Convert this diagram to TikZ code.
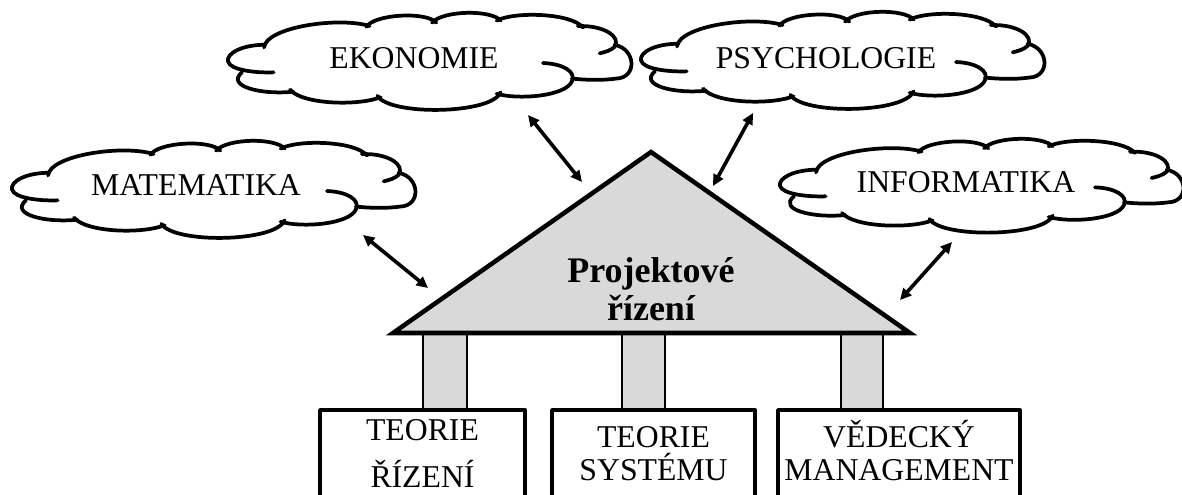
\documentclass[tikz,border=0pt]{standalone}
\usepackage{fontspec}
\setmainfont{Liberation Serif}
\usetikzlibrary{arrows.meta}
\definecolor{roofgray}{HTML}{D9D9D9}
\tikzset{
  cloudline/.style={line width=2.8pt, line cap=round},
  cloudtext/.style={font=\fontsize{23.8}{27}\selectfont, inner sep=0pt},
  boxtext/.style={font=\fontsize{23.8}{27}\selectfont, inner sep=0pt, anchor=base},
  rooftext/.style={font=\bfseries\fontsize{27}{29}\selectfont, inner sep=0pt, anchor=base},
  linkarrow/.style={line width=2.7pt, {Triangle[length=8.5pt,width=8pt]}-{Triangle[length=8.5pt,width=8pt]}},
  roof/.style={fill=roofgray, draw=black, line width=3.4pt},
  pillar/.style={fill=roofgray, draw=black, line width=1.1pt},
  basebox/.style={fill=white, draw=black, line width=2.9pt, line join=round},
  cloudshape/.pic={
    \draw[cloudline] (112,92) .. controls (40,92) and (-5,118) .. (0,140) .. controls (5,165) and (80,174) .. (137,172);
    \draw[cloudline] (108,100) .. controls (115,40) and (335,10) .. (425,38);
    \draw[cloudline] (415,40) .. controls (440,3) and (595,-5) .. (625,28);
    \draw[cloudline] (612,28) .. controls (645,-8) and (790,-10) .. (818,22);
    \draw[cloudline] (806,22) .. controls (860,-5) and (1030,0) .. (1065,42);
    \draw[cloudline] (1050,38) .. controls (1130,35) and (1180,70) .. (1160,98) .. controls (1150,108) and (1132,113) .. (1115,117);
    \draw[cloudline] (1160,92) .. controls (1225,105) and (1228,188) .. (1165,190) .. controls (1120,196) and (1070,194) .. (1032,190);
    \draw[cloudline] (945,145) .. controls (1005,147) and (1045,170) .. (1032,198) .. controls (1012,242) and (870,252) .. (806,234);
    \draw[cloudline] (818,230) .. controls (790,294) and (485,298) .. (448,240);
    \draw[cloudline] (458,244) .. controls (390,270) and (222,265) .. (186,222);
    \draw[cloudline] (196,228) .. controls (100,238) and (-8,212) .. (42,172);
  }
}
\begin{document}
\begin{tikzpicture}[x=0.75pt,y=-0.75pt]
\useasboundingbox (0,0) rectangle (1182,494);
\clip (0,0) rectangle (1182,494);

% clouds
\pic[shift={(228,13)},xscale=0.3333,yscale=0.345] {cloudshape};
\pic[shift={(641,12)},xscale=0.3333,yscale=0.345] {cloudshape};
\pic[shift={(12,141)},xscale=0.3333,yscale=0.345] {cloudshape};
\pic[shift={(780,139)},xscale=0.3333,yscale=0.3333] {cloudshape};
\node[cloudtext] (eko) at (414,58) {EKONOMIE};
\node[cloudtext] (psy) at (826,58) {PSYCHOLOGIE};
\node[cloudtext] (mat) at (196,185) {MATEMATIKA};
\node[cloudtext] (inf) at (966,182) {INFORMATIKA};

% pillars
\draw[pillar] (423,333) rectangle (467,410);
\draw[pillar] (622,333) rectangle (665,410);
\draw[pillar] (841,333) rectangle (883,410);

% roof
\coordinate (rl) at (393,333);
\coordinate (rr) at (910,333);
\coordinate (ra) at (651,152);
\draw[roof] (rl) -- (ra) -- (rr) -- cycle;
\node[rooftext] (proj1) at (651,282) {Projektové};
\node[rooftext] (proj2) at (651,320) {řízení};

% base boxes
\draw[basebox] (320,520) |- (525,410) -- (525,520);
\draw[basebox] (552,520) |- (755,410) -- (755,520);
\draw[basebox] (778,520) |- (1020,410) -- (1020,520);
\node[boxtext] (b1a) at (422.5,440) {TEORIE};
\node[boxtext] (b1b) at (422.5,487) {ŘÍZENÍ};
\node[boxtext] (b2a) at (653.5,447) {TEORIE};
\node[boxtext] (b2b) at (653.5,480) {SYSTÉMU};
\node[boxtext] (b3a) at (899,447) {VĚDECKÝ};
\node[boxtext] (b3b) at (899,480) {MANAGEMENT};

% arrows
\coordinate (ekoA) at (528,115);
\coordinate (ekoB) at (582,182);
\coordinate (psyA) at (753,113);
\coordinate (psyB) at (713,186);
\coordinate (matA) at (363,235);
\coordinate (matB) at (428,288);
\coordinate (infA) at (952,242);
\coordinate (infB) at (900,300);
\draw[linkarrow] (ekoA) -- (ekoB);
\draw[linkarrow] (psyA) -- (psyB);
\draw[linkarrow] (matA) -- (matB);
\draw[linkarrow] (infA) -- (infB);
\end{tikzpicture}
\end{document}
